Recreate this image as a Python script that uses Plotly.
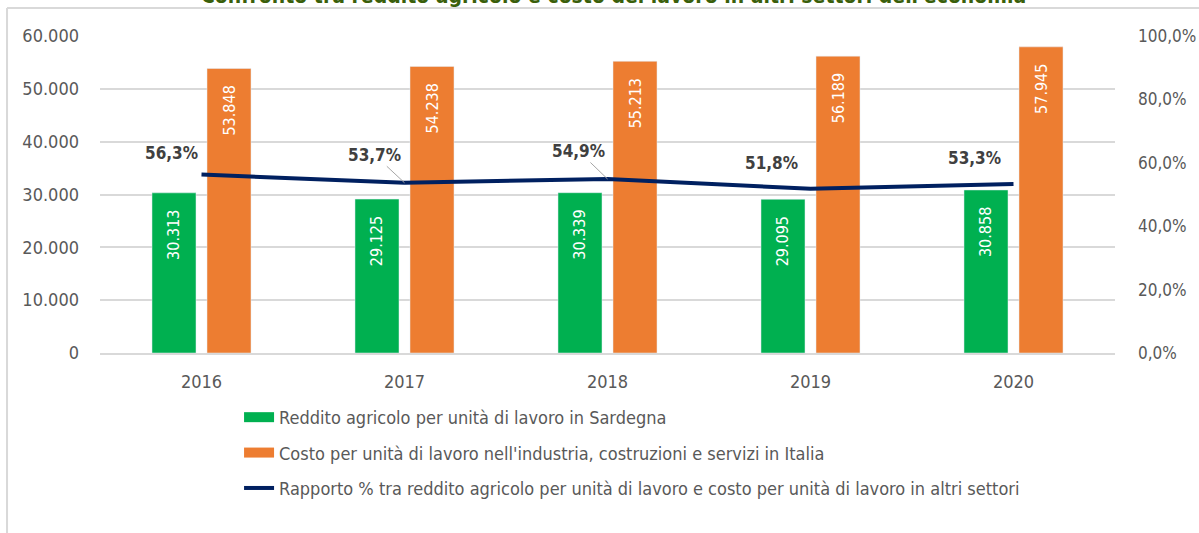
import plotly.graph_objects as go

years = ["2016", "2017", "2018", "2019", "2020"]
reddito_sardegna = [30313, 29125, 30339, 29095, 30858]
costo_italia = [53848, 54238, 55213, 56189, 57945]
rapporto_pct = [0.563, 0.537, 0.549, 0.518, 0.533]

name_green = "Reddito agricolo per unità di lavoro in Sardegna"
name_orange = "Costo per unità di lavoro nell'industria, costruzioni e servizi in Italia"
name_line = "Rapporto % tra reddito agricolo per unità di lavoro e costo per unità di lavoro in altri settori"
title_text = "Confronto tra reddito agricolo e costo del lavoro in altri settori dell'economia"

FONT = "DejaVu Sans Condensed, Liberation Sans, Arial, sans-serif"
GREEN = "#00B050"
ORANGE = "#ED7D31"
NAVY = "#002060"
GREY_TXT = "#595959"
PAD = "\u00a0\u00a0\u00a0"

fig = go.Figure()
fig.add_trace(go.Bar(
    x=years, y=reddito_sardegna, name=name_green, marker_color=GREEN,
    texttemplate="%{y:,.0f}" + PAD, textposition="inside", textangle=-90,
    insidetextanchor="end", textfont=dict(color="white", size=16, family=FONT),
    showlegend=False, legendgroup="g1",
))
fig.add_trace(go.Bar(
    x=years, y=costo_italia, name=name_orange, marker_color=ORANGE,
    texttemplate="%{y:,.0f}" + PAD, textposition="inside", textangle=-90,
    insidetextanchor="end", textfont=dict(color="white", size=16, family=FONT),
    showlegend=False, legendgroup="g2",
))
fig.add_trace(go.Scatter(
    x=years, y=rapporto_pct, name=name_line, yaxis="y2", mode="lines",
    line=dict(color=NAVY, width=4), showlegend=False, legendgroup="g3",
))
# legend entries (wide swatches like the original)
fig.add_trace(go.Scatter(x=[None], y=[None], mode="lines", name=name_green,
                         line=dict(color=GREEN, width=12), legendgroup="g1"))
fig.add_trace(go.Scatter(x=[None], y=[None], mode="lines", name=name_orange,
                         line=dict(color=ORANGE, width=12), legendgroup="g2"))
fig.add_trace(go.Scatter(x=[None], y=[None], mode="lines", name=name_line,
                         line=dict(color=NAVY, width=4), legendgroup="g3"))

# percentage labels (x given as category index)
offsets = [(-30, -22), (-30, -28), (-29, -28), (-39, -26), (-39, -26)]
leader = [False, True, True, False, False]
for i, (v, (ax, ay), ld) in enumerate(zip(rapporto_pct, offsets, leader)):
    fig.add_annotation(
        x=i, y=v, xref="x", yref="y2",
        text="<b>" + f"{v*100:.1f}".replace(".", ",") + "%</b>",
        showarrow=True, arrowhead=0, arrowwidth=1,
        arrowcolor="#A6A6A6" if ld else "rgba(0,0,0,0)",
        ax=ax, ay=ay, standoff=0,
        font=dict(size=17, color="#404040", family=FONT),
    )

# title (partly cut off at top)
fig.add_annotation(
    x=0.506, y=1.125, xref="paper", yref="paper", showarrow=False,
    xanchor="center", yanchor="middle",
    text="<b>" + title_text + "</b>",
    font=dict(size=21, color="#3A5F0B", family=FONT),
)

# chart box border fragments
fig.add_shape(type="line", xref="paper", yref="paper",
              x0=-0.0916, x1=1.1, y0=1.0883, y1=1.0883,
              line=dict(color="#D9D9D9", width=2))
fig.add_shape(type="line", xref="paper", yref="paper",
              x0=-0.0916, x1=-0.0916, y0=1.0883, y1=-0.6,
              line=dict(color="#D9D9D9", width=2))

fig.update_layout(
    width=1199, height=533,
    margin=dict(l=100, r=84, t=36, b=180, autoexpand=False),
    paper_bgcolor="white", plot_bgcolor="white",
    separators=",.",
    barmode="group", bargap=0.458, bargroupgap=0.2,
    font=dict(family=FONT, color=GREY_TXT, size=18),
    showlegend=True,
    legend=dict(
        x=0.137, y=-0.145, xanchor="left", yanchor="top",
        orientation="v", tracegroupgap=9,
        font=dict(size=18, color=GREY_TXT, family=FONT),
        bgcolor="rgba(0,0,0,0)",
    ),
    xaxis=dict(
        type="category", range=[-0.5, 4.5], autorange=False,
        showgrid=False, showline=True, linecolor="#D9D9D9", linewidth=2,
        tickfont=dict(size=18, color=GREY_TXT), ticks="", ticklabelstandoff=11,
        automargin=False,
    ),
    yaxis=dict(
        range=[0, 60000], dtick=10000, tickformat=",d",
        showgrid=True, gridcolor="#D9D9D9", gridwidth=1.5,
        zeroline=False, showline=False, automargin=False,
        tickfont=dict(size=18, color=GREY_TXT), ticklabelstandoff=20,
    ),
    yaxis2=dict(
        range=[0, 1], dtick=0.2, tickformat=".1%",
        overlaying="y", side="right", showgrid=False, zeroline=False,
        showline=False, automargin=False,
        tickfont=dict(size=17, color=GREY_TXT), ticklabelstandoff=22,
    ),
)

fig.write_html(
    "out.html",
    config={"displayModeBar": False},
    post_script="document.body.style.margin='0';document.body.style.overflow='hidden';",
)
